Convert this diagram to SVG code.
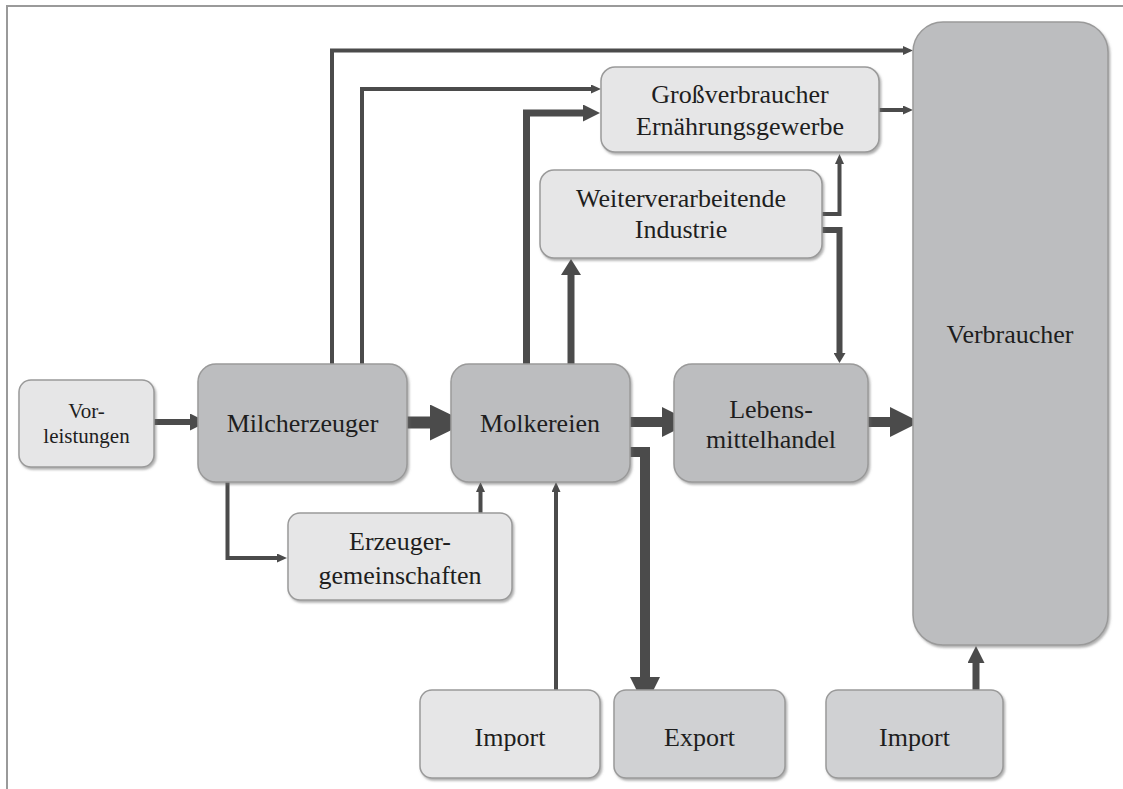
<svg xmlns="http://www.w3.org/2000/svg" width="1123" height="789" viewBox="0 0 1123 789">
<defs>
<style>
.frame{fill:none;stroke:#9a9a9a;stroke-width:2}
.box{stroke:#9a9a9a;stroke-width:1.5;filter:url(#sh)}
.light{fill:#e6e6e7}
.mid{fill:#d0d1d3}
.dark{fill:#bcbdbf}
.t{font-family:"Liberation Serif","Times New Roman",serif;font-size:26px;fill:#1e1e1e;text-anchor:middle}
.ts{font-size:21px}
.c{fill:none;stroke:#4b4b4b;stroke-linejoin:miter}
.w4{stroke-width:4}
.w6{stroke-width:6}
.w7{stroke-width:7}
.w10{stroke-width:10}
.w12{stroke-width:12}
</style>
<filter id="sh" x="-10%" y="-10%" width="120%" height="120%">
<feDropShadow dx="1.5" dy="2" stdDeviation="1" flood-color="#6e6e6e" flood-opacity="0.55"/>
</filter>
<marker id="mS" markerUnits="userSpaceOnUse" markerWidth="10" markerHeight="9" viewBox="0 0 10 9" refX="2" refY="4.5" orient="auto"><path d="M0,0 L10,4.5 L0,9 z" fill="#4b4b4b"/></marker>
<marker id="mT" markerUnits="userSpaceOnUse" markerWidth="10" markerHeight="12" viewBox="0 0 10 12" refX="2" refY="6" orient="auto"><path d="M0,0 L10,6 L0,12 z" fill="#4b4b4b"/></marker>
<marker id="mM" markerUnits="userSpaceOnUse" markerWidth="17" markerHeight="17" viewBox="0 0 17 17" refX="3" refY="8.5" orient="auto"><path d="M0,0 L17,8.5 L0,17 z" fill="#4b4b4b"/></marker>
<marker id="mN" markerUnits="userSpaceOnUse" markerWidth="16" markerHeight="20" viewBox="0 0 16 20" refX="3" refY="10" orient="auto"><path d="M0,0 L16,10 L0,20 z" fill="#4b4b4b"/></marker>
<marker id="mX" markerUnits="userSpaceOnUse" markerWidth="30" markerHeight="30" viewBox="0 0 30 30" refX="3" refY="15" orient="auto"><path d="M0,0 L30,15 L0,30 z" fill="#4b4b4b"/></marker>
<marker id="mL" markerUnits="userSpaceOnUse" markerWidth="37" markerHeight="36" viewBox="0 0 37 36" refX="3" refY="18" orient="auto"><path d="M0,0 L37,18 L0,36 z" fill="#4b4b4b"/></marker>
</defs>
<rect width="1123" height="789" fill="#ffffff"/>
<path class="frame" d="M7,789 V6 H1123"/>

<g id="connectors">
<path class="c w6" d="M154,422 H193" marker-end="url(#mM)"/>
<path class="c w12" d="M407,422.5 H433" marker-end="url(#mL)"/>
<path class="c w10" d="M630,422 H665" marker-end="url(#mX)"/>
<path class="c w10" d="M868,422 H893" marker-end="url(#mX)"/>
<path class="c w4" d="M332,364 V50.5 H905" marker-end="url(#mS)"/>
<path class="c w4" d="M362,364 V89 H593" marker-end="url(#mS)"/>
<path class="c w7" d="M526.5,364 V113 H586" marker-end="url(#mM)"/>
<path class="c w7" d="M571,364 V272" marker-end="url(#mN)"/>
<path class="c w4" d="M879,110 H905" marker-end="url(#mS)"/>
<path class="c w4" d="M822,214 H839.5 V162" marker-end="url(#mS)"/>
<path class="c w6" d="M822,230 H839.5 V355" marker-end="url(#mT)"/>
<path class="c w10" d="M630,452 H645 V680" marker-end="url(#mX)"/>
<path class="c w4" d="M556,690 V490" marker-end="url(#mS)"/>
<path class="c w4" d="M480.5,513 V490" marker-end="url(#mS)"/>
<path class="c w4" d="M227.5,482 V558 H279" marker-end="url(#mS)"/>
<path class="c w7" d="M976,690 V660" marker-end="url(#mM)"/>
</g>

<g id="verbraucher">
<rect class="box dark" x="913" y="22" width="195" height="623" rx="30"/>
<text class="t" x="1010" y="343">Verbraucher</text>
</g>
<g id="vorleistungen">
<rect class="box light" x="19" y="380" width="135" height="87" rx="12"/>
<text class="t ts" x="86.5" y="418">Vor-</text>
<text class="t ts" x="86.5" y="443">leistungen</text>
</g>
<g id="milcherzeuger">
<rect class="box dark" x="198" y="364" width="209" height="118" rx="18"/>
<text class="t" x="302.5" y="432">Milcherzeuger</text>
</g>
<g id="molkereien">
<rect class="box dark" x="451" y="364" width="179" height="118" rx="18"/>
<text class="t" x="540" y="432">Molkereien</text>
</g>
<g id="lebensmittelhandel">
<rect class="box dark" x="674" y="364" width="194" height="118" rx="18"/>
<text class="t" x="771" y="418">Lebens-</text>
<text class="t" x="771" y="448">mittelhandel</text>
</g>
<g id="grossverbraucher">
<rect class="box light" x="601" y="67" width="278" height="85" rx="14"/>
<text class="t" x="740" y="103">Großverbraucher</text>
<text class="t" x="740" y="135">Ernährungsgewerbe</text>
</g>
<g id="weiterverarbeitende">
<rect class="box light" x="540" y="170" width="282" height="88" rx="14"/>
<text class="t" x="681" y="207">Weiterverarbeitende</text>
<text class="t" x="681" y="238">Industrie</text>
</g>
<g id="erzeugergemeinschaften">
<rect class="box light" x="288" y="513" width="224" height="87" rx="12"/>
<text class="t" x="400" y="550">Erzeuger-</text>
<text class="t" x="400" y="584">gemeinschaften</text>
</g>
<g id="import1">
<rect class="box light" x="420" y="690" width="180" height="88" rx="12"/>
<text class="t" x="510" y="746">Import</text>
</g>
<g id="export">
<rect class="box mid" x="614" y="690" width="171" height="88" rx="12"/>
<text class="t" x="699.5" y="746">Export</text>
</g>
<g id="import2">
<rect class="box mid" x="826" y="690" width="177" height="88" rx="12"/>
<text class="t" x="914.5" y="746">Import</text>
</g>
</svg>
